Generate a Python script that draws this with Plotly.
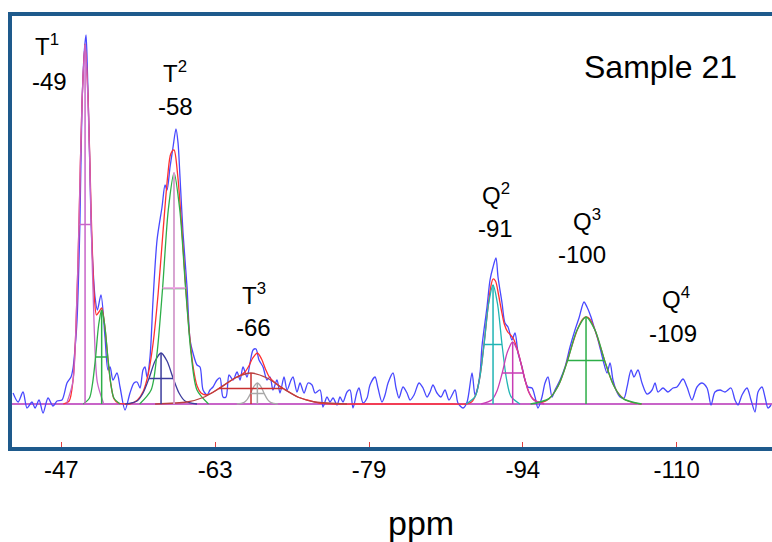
import plotly.graph_objects as go

# ---------------- data ----------------
# experimental spectrum (blue)
blue_ppm = [-42.06, -42.57, -43.08, -43.49, -44.00, -44.31, -44.72, -45.13, -45.64, -46.15,
            -46.56, -47.07, -47.58, -47.99, -48.20, -48.40, -48.61, -48.91, -49.12, -49.37,
            -49.53, -49.68, -49.89, -50.04, -50.25, -50.45, -50.69, -51.06, -51.47, -51.78,
            -51.99, -52.29, -52.70, -53.01, -53.52, -54.03, -54.44, -54.75, -55.06, -55.36,
            -55.57, -55.77, -56.08, -56.39, -56.80, -57.31, -57.62, -57.82, -58.13, -58.44,
            -58.74, -58.95, -59.15, -59.46, -59.87, -60.18, -60.48, -60.89, -61.20, -61.51,
            -61.92, -62.22, -62.53, -62.94, -63.25, -63.55, -63.86, -64.17, -64.58, -64.99,
            -65.30, -65.60, -66.01, -66.32, -66.63, -66.93, -67.24, -67.65, -68.06, -68.37,
            -68.67, -69.08, -69.39, -69.80, -70.11, -70.52, -70.72, -71.13, -71.44, -71.85,
            -72.26, -72.67, -72.97, -73.49, -73.79, -74.20, -74.51, -74.82, -75.23, -75.53,
            -75.84, -76.25, -76.56, -76.86, -77.27, -77.48, -77.89, -78.30, -78.60, -79.12,
            -79.42, -79.83, -80.14, -80.45, -80.96, -81.27, -81.57, -81.98, -82.39, -82.70,
            -83.11, -83.62, -84.03, -84.44, -84.75, -85.05, -85.46, -85.87, -86.28, -86.69,
            -87.31, -87.61, -88.13, -88.54, -89.05, -89.35, -89.56, -89.87, -90.07, -90.58,
            -90.89, -91.20, -91.50, -91.71, -92.12, -92.42, -92.73, -93.14, -93.45, -93.76,
            -94.17, -94.47, -94.78, -95.19, -95.50, -95.80, -96.21, -96.52, -96.83, -97.24,
            -97.54, -98.06, -98.57, -99.08, -99.59, -100.00, -100.51, -100.82, -101.23, -101.54,
            -101.95, -102.46, -102.87, -103.18, -103.48, -103.79, -104.20, -104.61, -104.92, -105.33,
            -105.63, -106.04, -106.45, -106.96, -107.48, -107.78, -108.09, -108.60, -109.11, -109.62,
            -110.03, -110.65, -111.06, -111.57, -112.08, -112.59, -113.11, -113.52, -113.92, -114.44,
            -114.95, -115.56, -115.97, -116.28, -116.69, -117.20, -117.61, -118.02, -118.33, -118.74,
            -119.04, -119.35, -119.66]
blue_int = [11, 2, 12, -4, 2, -4, 4, -9, 6, -2,
            3, 4, 21, 27, 36, 55, 84, 184, 300, 355,
            369, 330, 250, 184, 135, 107, 94, 109, 67, 34,
            37, 24, 31, 17, -6, 11, 21, 22, 16, 34,
            37, 27, 47, 104, 164, 197, 219, 214, 237, 257,
            275, 261, 227, 171, 117, 64, 51, 39, 37, 14,
            9, 14, 17, 24, 26, 7, 7, 29, 24, 32,
            24, 37, 27, 41, 54, 55, 44, 37, 24, 27,
            14, 24, 11, 27, 14, 24, 27, 12, 21, 11,
            21, 19, 11, 14, -3, 7, 2, 6, -1, 7,
            2, 12, 14, -4, 12, 16, 1, 6, 19, 27,
            16, 2, 9, 21, 31, 16, 6, 17, 11, 4,
            9, 21, 16, 7, 12, 19, 11, 7, 14, 4,
            14, 1, -4, 2, 31, 9, 14, 31, 58, 97,
            124, 137, 146, 127, 101, 81, 77, 64, 71, 51,
            37, 24, 17, 16, 7, -4, 7, 21, 27, 7,
            14, 24, 37, 57, 74, 86, 102, 97, 87, 77,
            64, 44, 31, 41, 24, 14, 7, 6, 17, 34,
            27, 34, 21, 10, 14, 21, 12, 16, 12, 16,
            17, 25, 17, 4, 17, 21, 16, -1, 12, 14,
            12, 16, 4, -1, 9, 16, 4, -8, 12, 17,
            7, -4, -1]

# total fit (red)
fit_ppm = [-47.2, -47.8, -48.2, -48.5, -48.8, -49.1, -49.43, -49.75, -50.05, -50.35,
           -50.6, -50.85, -51.13, -51.45, -51.75, -52.05, -52.4, -52.8, -53.5, -54.0,
           -54.8, -55.4, -55.9, -56.4, -56.9, -57.4, -57.9, -58.2, -58.54, -58.9,
           -59.3, -59.7, -60.1, -60.5, -60.9, -61.3, -61.8, -62.4, -63.2, -64.0,
           -64.8, -65.4, -65.8, -66.2, -66.6, -67.07, -67.5, -67.9, -68.3, -68.8,
           -69.5, -70.3, -71.2, -72.2, -73.4, -75.0, -77.0, -87.0, -88.4, -89.0,
           -89.5, -89.9, -90.3, -90.7, -91.0, -91.2, -91.45, -91.75, -92.05, -92.35,
           -92.7, -93.0, -93.3, -93.7, -94.1, -94.5, -94.9, -95.3, -95.8, -96.3,
           -96.9, -97.5, -98.1, -98.7, -99.3, -99.9, -100.4, -100.72, -101.1, -101.6,
           -102.2, -102.8, -103.4, -104.0, -104.6, -105.3, -106.4]
fit_int = [0, 3, 24, 77, 178, 296, 360, 303, 193, 112,
           89, 92, 96, 78, 47, 21, 5, 1, 0, 0,
           4, 13, 30, 61, 109, 171, 229, 250, 254, 230,
           181, 122, 72, 37, 18, 11, 9, 11, 16, 21,
           26, 29, 32, 38, 46, 51, 45, 35, 27, 22,
           17, 12, 7, 4, 1, 0, 0, 0, 0, 2,
           11, 30, 62, 98, 119, 125, 123, 110, 94, 80,
           72, 69, 65, 54, 39, 23, 11, 5, 2, 2,
           5, 12, 23, 40, 59, 76, 85, 87, 85, 75,
           57, 38, 22, 11, 5, 2, 0]

# deconvolution components
t1a_ppm = [-47.56, -48.18, -48.49, -48.81, -49.12, -49.43, -49.74, -50.06, -50.37, -50.68, -51.31]
t1a_int = [1, 22, 75, 180, 302, 359, 302, 180, 75, 22, 1]
t1b_ppm = [-49.26, -49.88, -50.19, -50.51, -50.82, -51.13, -51.44, -51.76, -52.07, -52.38, -53.01]
t1b_int = [0, 6, 20, 47, 79, 94, 79, 47, 20, 6, 0]
t2a_ppm = [-53.54, -54.76, -55.37, -55.99, -56.60, -57.21, -57.82, -58.44, -59.05, -59.66, -60.89]
t2a_int = [0, 3, 11, 26, 43, 51, 43, 26, 11, 3, 0]
t2b_ppm = [-55.02, -56.19, -56.78, -57.37, -57.95, -58.54, -59.13, -59.72, -60.30, -60.89, -62.07]
t2b_int = [0, 14, 49, 116, 194, 231, 194, 116, 49, 14, 0]
t3a_ppm = [-56.60, -59.87, -61.51, -63.15, -64.78, -66.42, -68.06, -69.70, -71.33, -72.97, -76.25]
t3a_int = [0, 2, 6.5, 15.5, 26, 31, 26, 15.5, 6.5, 2, 0]
t3b_ppm = [-64.97, -65.67, -66.02, -66.37, -66.72, -67.07, -67.42, -67.77, -68.12, -68.47, -69.17]
t3b_int = [0, 1.3, 4.4, 10.5, 17.7, 21, 17.7, 10.5, 4.4, 1.3, 0]
q2a_ppm = [-88.44, -89.36, -89.82, -90.28, -90.74, -91.20, -91.66, -92.12, -92.58, -93.04, -93.96]
q2a_int = [0, 7.4, 25, 59.5, 100, 119, 100, 59.5, 25, 7.4, 0]
q2b_ppm = [-89.99, -91.06, -91.60, -92.14, -92.67, -93.21, -93.75, -94.29, -94.82, -95.36, -96.44]
q2b_int = [0, 3.9, 13, 31, 52, 62, 52, 31, 13, 3.9, 0]
q3_ppm = [-95.04, -96.93, -97.88, -98.83, -99.77, -100.72, -101.67, -102.62, -103.56, -104.51, -106.41]
q3_int = [0, 5.4, 18.3, 43.5, 73.2, 87, 73.2, 43.5, 18.3, 5.4, 0]

# component markers (centre, height, full width at half height)
mark_center = [-49.43, -51.13, -57.21, -58.54, -58.54, -66.42, -67.07, -91.20, -93.21, -100.72]
mark_height = [359, 94, 51, 231, 232, 31, 21, 119, 62, 87]
mark_fwhm = [1.25, 1.25, 2.45, 2.35, 2.35, 6.55, 1.40, 1.84, 2.15, 3.79]

# labels
label_top = ["T<sup>1</sup>", "T<sup>2</sup>", "T<sup>3</sup>", "Q<sup>2</sup>", "Q<sup>3</sup>", "Q<sup>4</sup>"]
label_shift = ["-49", "-58", "-66", "-91", "-100", "-109"]
tick_vals = [-47, -62.75, -78.5, -94.25, -110]
tick_text = ["-47", "-63", "-79", "-94", "-110"]

# ---------------- styling ----------------
FONT = "Liberation Sans, Arial, sans-serif"
FRAME = "#1E5A8C"
comp_curves = [
    (t1a_ppm, t1a_int, "#C864C8"),
    (t1b_ppm, t1b_int, "#2DAE48"),
    (t2a_ppm, t2a_int, "#3C3C9C"),
    (t2b_ppm, t2b_int, "#2DAE48"),
    (t3a_ppm, t3a_int, "#B84040"),
    (t3b_ppm, t3b_int, "#A8A8A8"),
    (q2a_ppm, q2a_int, "#20B4B4"),
    (q2b_ppm, q2b_int, "#C83CB4"),
    (q3_ppm, q3_int, "#2DAE48"),
]
mark_colors = ["#C864C8", "#2DAE48", "#3C3C9C", "#2DAE48", "#FF9CF0",
               "#C83030", "#A8A8A8", "#20B4B4", "#C83CB4", "#2DAE48"]

fig = go.Figure()

# baseline
fig.add_trace(go.Scatter(x=[blue_ppm[0] + 1, blue_ppm[-1] - 1], y=[0, 0], mode="lines",
                         line=dict(color="#C864C8", width=2), hoverinfo="skip"))

# experimental spectrum
fig.add_trace(go.Scatter(x=blue_ppm, y=blue_int, mode="lines",
                         line=dict(color="#4848FF", width=1.3, shape="spline", smoothing=0.8),
                         hoverinfo="skip"))
# total fit
fig.add_trace(go.Scatter(x=fit_ppm, y=fit_int, mode="lines",
                         line=dict(color="#FF3030", width=1.3, shape="spline", smoothing=0.8),
                         hoverinfo="skip"))
# components
for xs, ys, col in comp_curves:
    fig.add_trace(go.Scatter(x=xs, y=ys, mode="lines",
                             line=dict(color=col, width=1.3, shape="spline", smoothing=0.8),
                             hoverinfo="skip"))
# crosses (centre line and half-height width bar)
for c, h, w, col in zip(mark_center, mark_height, mark_fwhm, mark_colors):
    fig.add_trace(go.Scatter(x=[c, c, None, c - w / 2, c + w / 2],
                             y=[0, h, None, h / 2, h / 2], mode="lines",
                             line=dict(color=col, width=1.5), hoverinfo="skip"))

# labels (position in data units)
top_pos = [(-45.54, 359), (-58.64, 332), (-66.68, 110), (-91.50, 210), (-100.82, 184), (-109.93, 106)]
shift_pos = [(-45.79, 323), (-58.64, 298), (-66.63, 77), (-91.40, 176), (-100.31, 150), (-109.62, 71)]
ann = []
for txt, (x, y) in zip(label_top, top_pos):
    ann.append(dict(x=x, y=y, text=txt, showarrow=False, xanchor="center", yanchor="middle",
                    font=dict(family=FONT, size=24, color="black")))
for txt, (x, y) in zip(label_shift, shift_pos):
    ann.append(dict(x=x, y=y, text=txt, showarrow=False, xanchor="center", yanchor="middle",
                    font=dict(family=FONT, size=24, color="black")))
ann.append(dict(x=0.853, y=0.882, xref="paper", yref="paper", text="Sample 21", showarrow=False,
                xanchor="center", yanchor="middle", font=dict(family=FONT, size=32, color="black")))
ann.append(dict(x=0.538, y=-0.176, xref="paper", yref="paper", text="ppm", showarrow=False,
                xanchor="center", yanchor="middle", font=dict(family=FONT, size=34, color="black")))

W, H = 760, 431
shapes = [
    dict(type="line", xref="paper", yref="paper", x0=-2 / W, x1=-2 / W, y0=-4 / H, y1=1 + 4 / H,
         line=dict(color=FRAME, width=4)),
    dict(type="line", xref="paper", yref="paper", x0=-4 / W, x1=1.01, y0=1 + 2 / H, y1=1 + 2 / H,
         line=dict(color=FRAME, width=4)),
    dict(type="line", xref="paper", yref="paper", x0=-4 / W, x1=1.01, y0=-2 / H, y1=-2 / H,
         line=dict(color=FRAME, width=4)),
]

fig.update_layout(
    width=772, height=542,
    margin=dict(l=12, r=0, t=16, b=95),
    paper_bgcolor="white", plot_bgcolor="white",
    showlegend=False,
    annotations=ann, shapes=shapes,
    xaxis=dict(range=[-41.95, -119.76], tickvals=tick_vals, ticktext=tick_text,
               ticks="inside", ticklen=5, tickwidth=1, tickcolor="#E04040",
               ticklabelstandoff=6,
               showgrid=False, zeroline=False, showline=False,
               tickfont=dict(family=FONT, size=24, color="black")),
    yaxis=dict(range=[-43, 388], visible=False, showgrid=False, zeroline=False),
)

fig.write_html("out.html", config={"displayModeBar": False})
